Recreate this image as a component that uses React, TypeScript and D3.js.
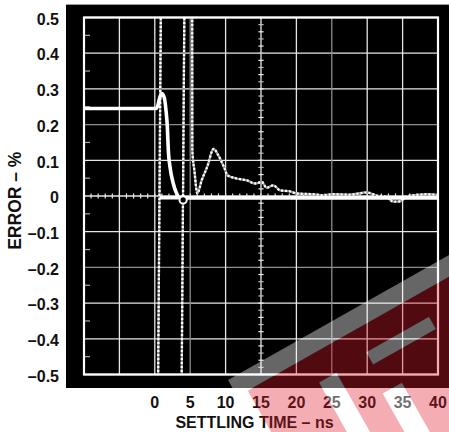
import React from "react";
import * as d3 from "d3";

// ---------- data ----------
const yTickValues = [0.5, 0.4, 0.3, 0.2, 0.1, 0, -0.1, -0.2, -0.3, -0.4, -0.5];
const yTickLabels = ["0.5", "0.4", "0.3", "0.2", "0.1", "0", "–0.1", "–0.2", "–0.3", "–0.4", "–0.5"];
const xGridValues = [-10, -5, 0, 5, 10, 15, 20, 25, 30, 35, 40];
const xTickValues = [0, 5, 10, 15, 20, 25, 30, 35, 40];
const xTickLabels = ["0", "5", "10", "15", "20", "25", "30", "35", "40"];
const halfDivTicks = [0.45, 0.35, 0.25, 0.15, 0.05, -0.05, -0.15, -0.25, -0.35, -0.45];

// thick (input step) trace: time ns, error %
const thickTime = [-10, 0.2, 0.45, 0.73, 0.97, 1.3, 1.58, 1.77, 1.91, 2.15, 2.61, 3.09, 3.56, 40];
const thickError = [0.245, 0.245, 0.255, 0.278, 0.287, 0.278, 0.24, 0.194, 0.128, 0.081, 0.035, 0.007, -0.005, -0.005];
const zeroTime = [0.7, 40];
const zeroError = [-0.005, -0.005];
const ringTime = [4.0];
const ringError = [-0.011];

// dotted settling trace (NaN = pen up)
const dotTime = [
  0.45, 0.87, NaN,
  3.78, 4.19, NaN,
  5.28, 5.3, 5.6, 6.0, 6.62, 7.56, 8.04, 8.3, 8.97, 9.92, 10.24, 11.57, 12.98, 14.15, 15.1, 15.8, 16.74,
  17.68, 19.1, 20.04, 22.35, 23.76, 25.17, 27.57, 29.93, 31.34, 32.75, 33.69, 34.63, 35.58, 36.99, 38.4, 40,
];
const dotError = [
  -0.56, 0.56, NaN,
  -0.56, 0.56, NaN,
  0.56, 0.128, 0.07, 0.007, 0.044, 0.091, 0.124, 0.132, 0.114, 0.074, 0.058, 0.049, 0.044, 0.035, 0.039, 0.023, 0.03,
  0.016, 0.013, 0.007, 0.005, 0.002, 0.005, 0.004, 0.01, 0.001, -0.003, -0.016, -0.015, -0.001, 0.003, 0.005, 0.003,
];

// ---------- styling ----------
const dimX = new Set([5, 25]);
const dimY = new Set([0.2, -0.2]);
const FONT = "'Liberation Sans', Arial, Helvetica, sans-serif";

export default function App() {
  const W = 449, H = 432;
  const x = d3.scaleLinear().domain([-10, 40]).range([84, 438]);
  const y = d3.scaleLinear().domain([-0.5, 0.5]).range([374.5, 17.5]);

  const pts = (ts: number[], vs: number[]) => ts.map((t, i) => [t, vs[i]] as [number, number]);
  const line = d3
    .line<[number, number]>()
    .defined((d) => !isNaN(d[0]) && !isNaN(d[1]))
    .x((d) => x(d[0]))
    .y((d) => y(d[1]))
    .curve(d3.curveMonotoneX);
  const straight = d3
    .line<[number, number]>()
    .defined((d) => !isNaN(d[0]) && !isNaN(d[1]))
    .x((d) => x(d[0]))
    .y((d) => y(d[1]));

  const thickPath = line(pts(thickTime, thickError)) || "";
  const zeroPath = straight(pts(zeroTime, zeroError)) || "";
  // dotted: split segments; first two are near-vertical straight lines
  const dotPts = pts(dotTime, dotError);
  const segs: [number, number][][] = [];
  let cur: [number, number][] = [];
  dotPts.forEach((p) => {
    if (isNaN(p[0])) {
      if (cur.length) segs.push(cur);
      cur = [];
    } else cur.push(p);
  });
  if (cur.length) segs.push(cur);
  const dotPaths = segs.map((s) => (s.length > 2 ? line(s) : straight(s)) || "");

  const minorX = d3.range(-10, 40.001, 1);
  const minorY = d3.range(-0.5, 0.5001, 0.02);

  const x0 = x(-10), x1 = x(40), yTop = y(0.5), yBot = y(-0.5);

  return (
    <svg
      width={W}
      height={H}
      style={{ position: "absolute", left: 0, top: 0, background: "#fff", display: "block" }}
    >
      <defs>
        <clipPath id="plotClip">
          <rect x={x0} y={yTop} width={x1 - x0} height={yBot - yTop} />
        </clipPath>
        <mask id="wmMask" maskUnits="userSpaceOnUse" x={-300} y={-300} width={1000} height={1000}>
          <rect x={-300} y={-300} width={1000} height={1000} fill="#fff" />
          <rect x={134} y={44} width={72} height={14} fill="#000" />
          <rect x={78} y={47} width={20} height={300} fill="#000" />
          <rect x={128} y={88} width={22} height={300} fill="#000" />
        </mask>
      </defs>

      {/* scope background */}
      <rect x={66} y={4.5} width={W - 66} height={388 - 4.5} fill="#000" />
      <line x1={66} x2={W} y1={4.5} y2={4.5} stroke="#9a9a9a" strokeWidth={1} />

      {/* grid */}
      {yTickValues.map((v) => (
        <line
          key={"gy" + v}
          x1={x0}
          x2={x1}
          y1={y(v)}
          y2={y(v)}
          stroke={dimY.has(v) ? "#8c8c8c" : "#e6e6e6"}
          strokeWidth={1.3}
        />
      ))}
      {xGridValues.map((t) => (
        <line
          key={"gx" + t}
          x1={x(t)}
          x2={x(t)}
          y1={yTop}
          y2={yBot}
          stroke={dimX.has(t) ? "#8c8c8c" : "#e6e6e6"}
          strokeWidth={1.3}
        />
      ))}
      {/* center graticule minor ticks */}
      {minorX.map((t) => (
        <line key={"mx" + t} x1={x(t)} x2={x(t)} y1={y(0) - 2.6} y2={y(0) + 2.6} stroke="#e6e6e6" strokeWidth={1.2} />
      ))}
      {minorY.map((v, i) => (
        <line
          key={"my" + i}
          x1={x(15) - 2.6}
          x2={x(15) + 2.6}
          y1={y(v)}
          y2={y(v)}
          stroke={i % 2 ? "#bdbdbd" : "#ececec"}
          strokeWidth={1.2}
        />
      ))}
      {halfDivTicks.map((v) => (
        <line key={"hd" + v} x1={x0} x2={x0 + 6} y1={y(v)} y2={y(v)} stroke="#a8a8a8" strokeWidth={1.2} />
      ))}

      {/* traces */}
      <g clipPath="url(#plotClip)" fill="none">
        {dotPaths.map((d, i) => (
          <g key={"dp" + i}>
            <path d={d} stroke="#9a9a9a" strokeWidth={2.3} />
            <path d={d} stroke="#ffffff" strokeWidth={2.3} strokeDasharray="2 2" />
          </g>
        ))}
        <path d={zeroPath} stroke="#fff" strokeWidth={3.6} />
        <path d={thickPath} stroke="#fff" strokeWidth={3.6} strokeLinejoin="round" />
        {ringTime.map((t, i) => (
          <circle key={"r" + i} cx={x(t)} cy={y(ringError[i])} r={3.6} stroke="#fff" strokeWidth={2} fill="#000" />
        ))}
      </g>

      {/* frame */}
      <rect x={x0} y={yTop} width={x1 - x0} height={yBot - yTop} fill="none" stroke="#fff" strokeWidth={2.2} />

      {/* labels */}
      <g fontFamily={FONT} fontWeight="bold" fill="#111">
        {yTickValues.map((v, i) => (
          <text key={"yl" + v} x={59} y={y(v) + 1.5} dy="0.36em" textAnchor="end" fontSize={16}>
            {yTickLabels[i]}
          </text>
        ))}
        {xTickValues.map((t, i) => (
          <text key={"xl" + t} x={x(t)} y={407.5} textAnchor="middle" fontSize={16}>
            {xTickLabels[i]}
          </text>
        ))}
        <text x={254.5} y={428} textAnchor="middle" fontSize={16}>
          SETTLING TIME – ns
        </text>
        <text transform="translate(20.5,200.7) rotate(-90)" textAnchor="middle" fontSize={17.5}>
          ERROR – %
        </text>
      </g>

      {/* watermark */}
      <g transform="translate(228,380) rotate(-29.5)">
        <rect x={12} y={19} width={400} height={300} fill="rgb(222,28,44)" fillOpacity={0.36} mask="url(#wmMask)" />
        <rect x={0} y={0} width={420} height={19} fill="#fff" fillOpacity={0.4} />
        <rect x={134} y={44} width={72} height={14} fill="#fff" fillOpacity={0.4} />
        <rect x={78} y={47} width={20} height={300} fill="#fff" fillOpacity={0.4} />
        <rect x={128} y={88} width={22} height={300} fill="#fff" fillOpacity={0.4} />
      </g>
    </svg>
  );
}
